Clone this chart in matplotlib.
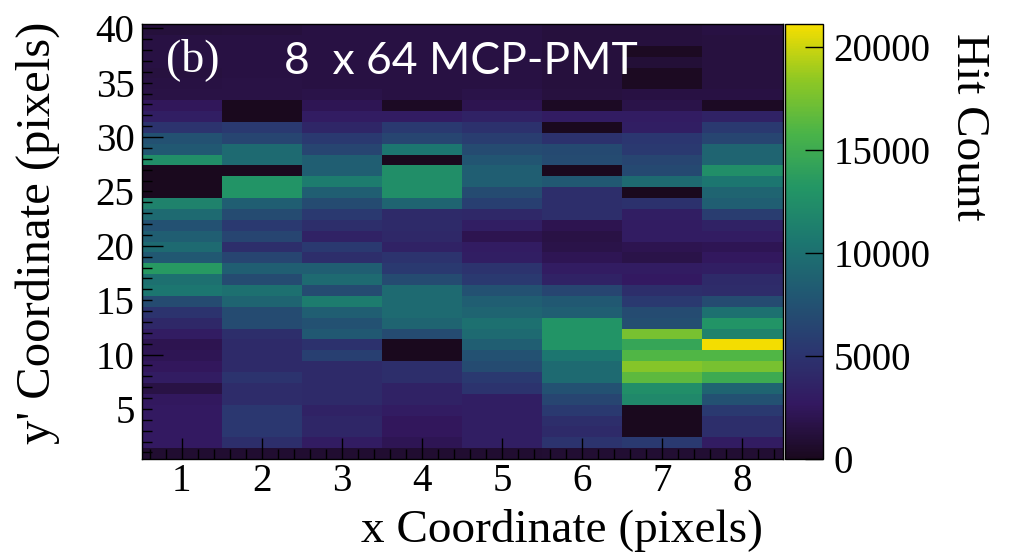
import numpy as np
import matplotlib
matplotlib.use("Agg")
import matplotlib.pyplot as plt
from matplotlib.colors import LinearSegmentedColormap
from matplotlib.ticker import MultipleLocator

# hit counts per x column, listed from the top row (y' ~ 40) down to the bottom row (y' ~ 1)
col1 = [1200, 1500, 1500, 1500, 1400, 1500, 1600, 2400, 3200, 5000, 7500, 8000, 12500, 0, 0, 0,
        11500, 9500, 7500, 8500, 9500, 8000, 13500, 10000, 10500, 7000, 5000, 4000, 3000, 2000,
        2200, 2500, 3000, 1600, 2600, 2800, 2800, 2800, 2800, 800]
col2 = [1300, 1500, 1500, 1500, 1500, 1600, 1600, 0, 0, 5500, 6500, 9500, 9500, 0, 13000, 13000,
        8500, 7000, 5500, 6500, 4500, 6500, 8500, 7000, 10000, 9000, 7000, 7000, 4500, 4200,
        4200, 4200, 5000, 4300, 4300, 5300, 5300, 5300, 4500, 800]
col3 = [1500, 1500, 1500, 1500, 1500, 1500, 1800, 2200, 3000, 3800, 5500, 6500, 8500, 8500, 11000, 8500,
        7000, 5500, 4500, 3500, 5500, 4500, 8500, 9500, 7000, 11000, 8500, 7500, 8000, 4800,
        6000, 4200, 4200, 4200, 4200, 3500, 3800, 3800, 3000, 800]
col4 = [1500, 1500, 1500, 1500, 1500, 1500, 1500, 300, 3000, 5500, 6500, 10500, 0, 12500, 12500, 12500,
        9000, 4200, 4200, 4000, 3500, 5000, 5500, 7000, 9500, 9500, 9500, 9000, 7000, 0,
        0, 4500, 4500, 3500, 3500, 3000, 2500, 2500, 2200, 800]
col5 = [1500, 1500, 1500, 1500, 1500, 1500, 1800, 2000, 3500, 4800, 5800, 7000, 7800, 8500, 8500, 7000,
        6000, 4000, 3200, 2000, 3000, 3200, 5000, 5500, 7500, 8500, 9000, 10000, 9500, 8500,
        7500, 7000, 5500, 5000, 3200, 3200, 3200, 3200, 3200, 800]
col6 = [1300, 1300, 1300, 1300, 1300, 1300, 1400, 300, 3000, 0, 4800, 6800, 7000, 0, 8000, 4500,
        4500, 4500, 2000, 1600, 1800, 2200, 3000, 3500, 6500, 8000, 8500, 13000, 13000, 13000,
        10500, 9500, 9500, 7500, 6500, 5500, 4500, 4200, 5000, 900]
col7 = [1300, 1300, 200, 1000, 200, 200, 1500, 1800, 3000, 3200, 5200, 5500, 6500, 6800, 9500, 0,
        4800, 3200, 3000, 3000, 2000, 1800, 3000, 2800, 4500, 5500, 7000, 7200, 17500, 14500,
        16000, 18000, 16500, 12500, 12000, 0, 0, 0, 5500, 900]
col8 = [1500, 1400, 1400, 1400, 1400, 1400, 1500, 300, 3500, 5500, 6500, 9000, 9000, 12500, 10500, 9000,
        8500, 5800, 3500, 3000, 2200, 2600, 3200, 4200, 4300, 7000, 10000, 13000, 11500, 21000,
        16000, 17500, 15000, 9000, 7500, 5500, 4500, 4500, 3000, 900]

x_pixels = [1, 2, 3, 4, 5, 6, 7, 8]
y_labels = [5, 10, 15, 20, 25, 30, 35, 40]
cbar_ticks = [0, 5000, 10000, 15000, 20000]

# ROOT kViridis palette stops
root_viridis = [(26, 9, 30), (51, 24, 96), (43, 55, 112), (33, 87, 114), (28, 118, 112),
                (35, 150, 101), (74, 180, 72), (144, 200, 35), (246, 222, 0)]
cmap = LinearSegmentedColormap.from_list("kViridis", [(r/255, g/255, b/255) for r, g, b in root_viridis])

columns = [col1, col2, col3, col4, col5, col6, col7, col8]
counts = np.array([c[::-1] for c in columns]).T   # row 0 = bottom

serif = "Liberation Serif"
W, H = 1009, 554

fig = plt.figure(figsize=(W/100, H/100), dpi=100)
ax = fig.add_axes([141.5/W, 95/H, 641/W, 435/H])

xedges = np.arange(len(x_pixels) + 1) + 0.5
yedges = np.arange(counts.shape[0] + 1) + 0.4
mesh = ax.pcolormesh(xedges, yedges, counts, cmap=cmap, vmin=0, vmax=21100)
ax.set_xlim(xedges[0], xedges[-1])
ax.set_ylim(yedges[0], yedges[-1])

ax.set_xticks(x_pixels)
ax.set_xticklabels([str(v) for v in x_pixels], family=serif, fontsize=28)
ax.xaxis.set_minor_locator(MultipleLocator(0.2))
ax.set_yticks(y_labels)
ax.set_yticklabels([str(v) for v in y_labels], family=serif, fontsize=28)
ax.yaxis.set_minor_locator(MultipleLocator(1))

ax.tick_params(axis='x', which='major', direction='in', length=15, width=1, pad=3)
ax.tick_params(axis='x', which='minor', direction='in', length=7.2, width=1)
ax.tick_params(axis='y', which='major', direction='in', length=7.2, width=1, pad=5)
ax.tick_params(axis='y', which='minor', direction='in', length=7.2, width=1)
# long ticks only every 10
for v, t in zip(y_labels, ax.yaxis.get_major_ticks()):
    if v % 10 == 0:
        t.tick1line.set_markersize(15)

for s in ax.spines.values():
    s.set_linewidth(1)

cax = fig.add_axes([785/W, 95/H, 37.5/W, 435/H])
cb = fig.colorbar(mesh, cax=cax, ticks=cbar_ticks)
cb.outline.set_linewidth(1)
cax.tick_params(direction='in', length=13, width=1, pad=8)
cax.set_yticklabels([str(v) for v in cbar_ticks], family=serif, fontsize=28)

fig.text(193/W, 1 - 60/H, "(b)", color="white", family=serif, fontsize=33, ha="center", va="center")
fig.text(461/W, 1 - 62/H, "8  x 64 MCP-PMT", color="white", family="Lato", fontsize=32,
         ha="center", va="center")

fig.text(562/W, 1 - 530/H, "x Coordinate (pixels)", family=serif, fontsize=34, ha="center", va="center")
fig.text(38/W, 1 - 233/H, "y' Coordinate (pixels)", family=serif, fontsize=35, ha="center", va="center",
         rotation=90)
fig.text(968/W, 1 - 127/H, "Hit Count", family=serif, fontsize=34, ha="center", va="center", rotation=270)

fig.savefig("out.png", dpi=100)
